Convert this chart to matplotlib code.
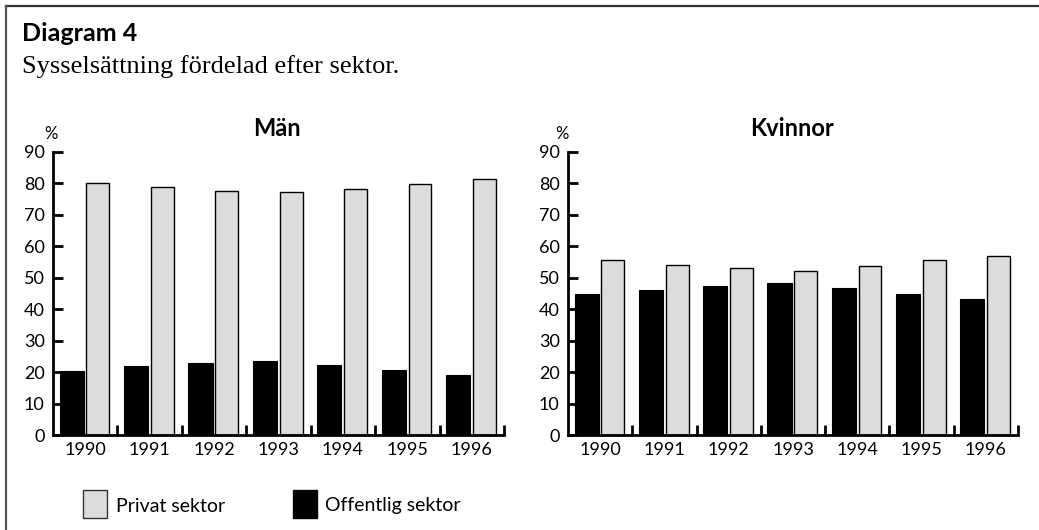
import matplotlib.pyplot as plt
from matplotlib.patches import Rectangle
import numpy as np

# Data
years = ['1990', '1991', '1992', '1993', '1994', '1995', '1996']
man_offentlig = [20.5, 21.8, 23.0, 23.5, 22.2, 20.7, 19.2]
man_privat = [80.0, 78.8, 77.5, 77.2, 78.3, 79.9, 81.3]
kvinnor_offentlig = [44.8, 46.2, 47.3, 48.3, 46.6, 44.7, 43.3]
kvinnor_privat = [55.5, 54.1, 53.1, 52.0, 53.7, 55.6, 57.0]

sans = ['Lato', 'DejaVu Sans']
serif = ['Liberation Serif', 'DejaVu Serif']
gray = '#dcdcdc'

fig = plt.figure(figsize=(10.39, 5.30), dpi=100)

# Outer frame (top and left only)
fig.add_artist(plt.Line2D([5.5 / 1039, 1], [1 - 5.5 / 530, 1 - 5.5 / 530], color='#333333', lw=1.6))
fig.add_artist(plt.Line2D([5.5 / 1039, 5.5 / 1039], [0, 1 - 5.5 / 530], color='#555555', lw=1.6))

fig.text(22 / 1039, 1 - 41 / 530, 'Diagram 4', family=sans, fontweight='bold', fontsize=18)
fig.text(22 / 1039, 1 - 73 / 530, 'Sysselsättning fördelad efter sektor.', family=serif, fontsize=19)


def draw(rect, offentlig, privat, title, title_x, pct_x):
    ax = fig.add_axes(rect)
    x = np.arange(len(years))
    ax.bar(x + 0.29, offentlig, width=0.375, color='black', edgecolor='black', lw=0.8)
    ax.bar(x + 0.697, privat, width=0.355, color=gray, edgecolor='black', lw=1.0)
    ax.set_xlim(0, len(years))
    ax.set_ylim(0, 90)
    ax.set_yticks(range(0, 91, 10))
    ax.set_xticks(range(1, len(years) + 1))
    ax.set_xticklabels([])
    ax.set_xticks(x + 0.5, minor=True)
    ax.set_xticklabels(years, minor=True, family=sans, fontsize=13)
    ax.tick_params(axis='x', which='major', direction='in', length=7, width=2)
    ax.tick_params(axis='x', which='minor', length=0, pad=5)
    ax.tick_params(axis='y', direction='in', length=7, width=2, pad=6)
    for lab in ax.get_yticklabels():
        lab.set_family(sans)
        lab.set_fontsize(13)
    for s in ['top', 'right']:
        ax.spines[s].set_visible(False)
    for s in ['left', 'bottom']:
        ax.spines[s].set_linewidth(2)
    fig.text(title_x / 1039, 1 - 136 / 530, title, family=sans, fontweight='bold',
             fontsize=17, ha='center')
    fig.text(pct_x / 1039, 1 - 139 / 530, '%', family=sans, fontsize=12, ha='center')
    return ax


draw([53 / 1039, 1 - 435 / 530, 451 / 1039, 283 / 530], man_offentlig, man_privat, 'Män', 277, 51)
draw([568 / 1039, 1 - 435 / 530, 450 / 1039, 283 / 530], kvinnor_offentlig, kvinnor_privat, 'Kvinnor', 792, 562)

# Legend
fig.add_artist(Rectangle((83 / 1039, 1 - 518 / 530), 24 / 1039, 28 / 530,
                         facecolor=gray, edgecolor='#333333', lw=1.0, transform=fig.transFigure))
fig.text(116 / 1039, 1 - 506 / 530, 'Privat sektor', family=sans, fontsize=14, va='center')
fig.add_artist(Rectangle((293 / 1039, 1 - 518 / 530), 24 / 1039, 28 / 530,
                         facecolor='black', edgecolor='black', lw=1.0, transform=fig.transFigure))
fig.text(325 / 1039, 1 - 506 / 530, 'Offentlig sektor', family=sans, fontsize=14, va='center')

fig.savefig('out.png', dpi=100)
